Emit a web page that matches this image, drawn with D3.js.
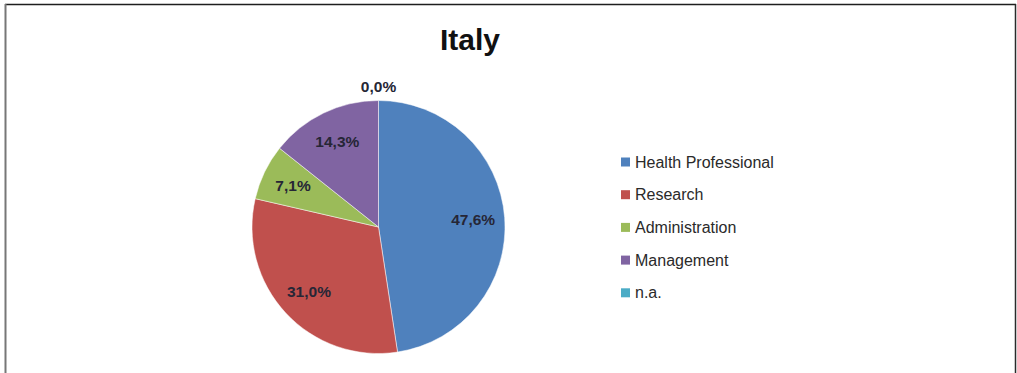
<!DOCTYPE html>
<html>
<head>
<meta charset="utf-8">
<script src="https://cdn.jsdelivr.net/npm/d3@7"></script>
<style>
  html, body { margin: 0; padding: 0; background: #fff; }
  svg { display: block; }
</style>
</head>
<body>
<svg id="chart" width="1017" height="373"></svg>
<script>
// Staff categories and their share (%) in Italy
const categories = ["Health Professional", "Research", "Administration", "Management", "n.a."];
const shares = [47.6, 31.0, 7.1, 14.3, 0.0];
const colors = ["#4F81BD", "#C0504D", "#9BBB59", "#8064A2", "#4BACC6"];
const title = "Italy";

const svg = d3.select("#chart");
const W = 1017, H = 373;

// Frame lines
svg.append("line").attr("x1", 5).attr("x2", 1016).attr("y1", 4.5).attr("y2", 4.5)
  .attr("stroke", "#1e1e1e").attr("stroke-width", 1.5);
svg.append("line").attr("x1", 5.5).attr("x2", 5.5).attr("y1", 4).attr("y2", H)
  .attr("stroke", "#777").attr("stroke-width", 2);
svg.append("line").attr("x1", 1015.5).attr("x2", 1015.5).attr("y1", 4).attr("y2", H)
  .attr("stroke", "#2a2a2a").attr("stroke-width", 1.5);

// Title
svg.append("text").attr("x", 470).attr("y", 50)
  .attr("text-anchor", "middle")
  .attr("font-family", "Liberation Sans, Arial, sans-serif")
  .attr("font-weight", "bold").attr("font-size", 30).attr("fill", "#111")
  .text(title);

// Pie
const cx = 378.5, cy = 227, r = 126.5;
const color = d3.scaleOrdinal().domain(categories).range(colors);
const data = categories.map((c, i) => ({ cat: c, value: shares[i] }));
const pie = d3.pie().value(d => d.value).sort(null);
const arcs = pie(data);
const arc = d3.arc().innerRadius(0).outerRadius(r);
const labelArc = d3.arc().innerRadius(r * 0.75).outerRadius(r * 0.75);
const outerLabelArc = d3.arc().innerRadius(r * 1.11).outerRadius(r * 1.11);

const g = svg.append("g").attr("transform", `translate(${cx},${cy})`);
g.selectAll("path.slice").data(arcs.filter(d => d.data.value > 0)).join("path")
  .attr("class", "slice")
  .attr("d", arc)
  .attr("fill", d => color(d.data.cat))
  .attr("stroke", "#fff").attr("stroke-width", 0.5);

const fmt = v => v.toFixed(1).replace(".", ",") + "%";
g.selectAll("text.lbl").data(arcs).join("text")
  .attr("class", "lbl")
  .attr("transform", d => {
    const p = d.data.value > 0 ? labelArc.centroid(d) : outerLabelArc.centroid(d);
    return `translate(${p[0]},${p[1]})`;
  })
  .attr("text-anchor", "middle").attr("dy", "0.35em")
  .attr("font-family", "Liberation Sans, Arial, sans-serif")
  .attr("font-weight", "bold").attr("font-size", 15.5)
  .attr("fill", "#262636")
  .text(d => fmt(d.data.value));

// Legend
const lg = svg.append("g").attr("transform", "translate(621,162)");
const rows = lg.selectAll("g").data(categories).join("g")
  .attr("transform", (d, i) => `translate(0,${i * 32.7})`);
rows.append("rect").attr("x", 0).attr("y", -4.5).attr("width", 9).attr("height", 9)
  .attr("fill", d => color(d));
rows.append("text").attr("x", 14).attr("dy", "0.35em")
  .attr("font-family", "Liberation Sans, Arial, sans-serif")
  .attr("font-size", 16).attr("fill", "#2a2a2a")
  .text(d => d);
</script>
</body>
</html>
